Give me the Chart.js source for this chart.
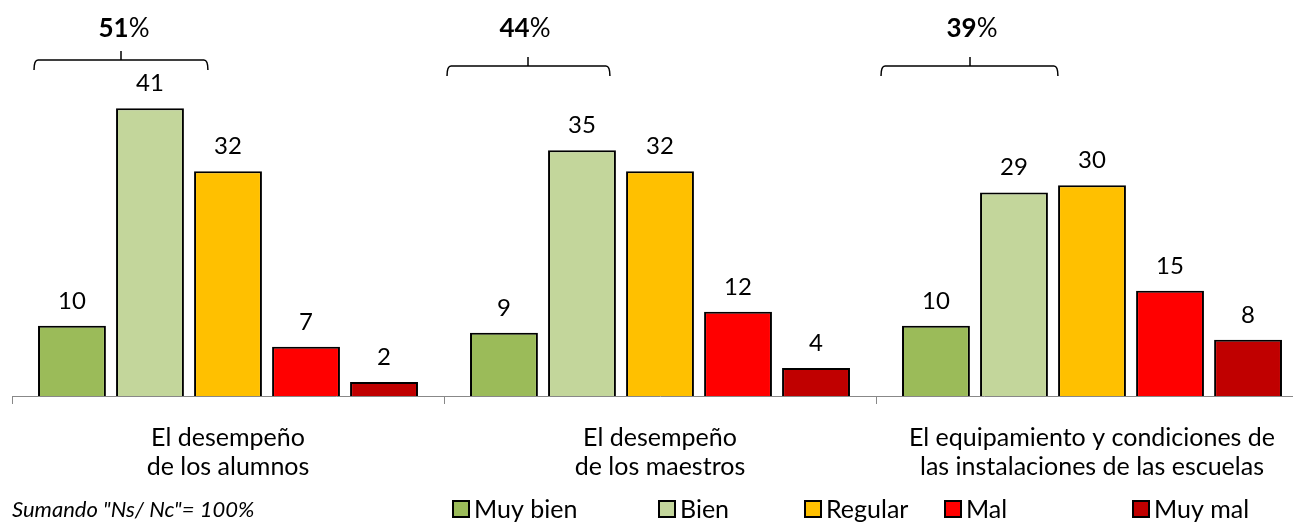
<!DOCTYPE html>
<html>
<head>
<meta charset="utf-8">
<script src="https://cdn.jsdelivr.net/npm/chart.js@4.4.1/dist/chart.umd.min.js"></script>
<style>
  html, body { margin: 0; padding: 0; background: #fff; overflow: hidden; }
  #wrap { position: absolute; left: 0; top: 0; width: 1320px; height: 522px; }
</style>
</head>
<body>
<div id="wrap"><canvas id="chartCanvas" width="1320" height="522"></canvas></div>
<script>
// Daten
const categories = [
  ["El desempeño", "de los alumnos"],
  ["El desempeño", "de los maestros"],
  ["El equipamiento y condiciones de", "las instalaciones de las escuelas"]
];
const seriesNames = ["Muy bien", "Bien", "Regular", "Mal", "Muy mal"];
const muyBien = [10, 9, 10];
const bien = [41, 35, 29];
const regular = [32, 32, 30];
const mal = [7, 12, 15];
const muyMal = [2, 4, 8];
const positivos = ["51", "44", "39"];
const nota = 'Sumando "Ns/ Nc"= 100%';

const colores = ["#9BBB59", "#C3D69B", "#FFC000", "#FF0000", "#C00000"];
const FONT = "Lato, 'Open Sans', sans-serif";

// Klammer-Versatz je Gruppe (links, rechts, Höhe der Linie)
const klammer = [
  { l: -4, r: 24, y: 60, cx: 121, tx: 124 },
  { l: -23, r: -6, y: 66, cx: 528, tx: 525 },
  { l: -21, r: 10, y: 66, cx: 970, tx: 972 }
];
// Legenden-Startpunkte (x)
const legendeX = [453, 659, 805, 945, 1133];

const werteLabels = {
  id: 'werteLabels',
  afterDatasetsDraw(chart) {
    const c = chart.ctx;
    c.save();
    c.font = "24px " + FONT;
    c.fillStyle = "#000";
    c.textAlign = "center";
    c.textBaseline = "alphabetic";
    chart.data.datasets.forEach((ds, i) => {
      chart.getDatasetMeta(i).data.forEach((bar, j) => {
        c.fillText(ds.data[j], bar.x, bar.y - 17);
      });
    });

    // Klammern und Prozente
    const m0 = chart.getDatasetMeta(0).data;
    const m1 = chart.getDatasetMeta(1).data;
    c.strokeStyle = "#000";
    c.lineWidth = 1.5;
    positivos.forEach((p, j) => {
      const k = klammer[j];
      const x1 = m0[j].x - m0[j].width / 2 + k.l;
      const x2 = m1[j].x + m1[j].width / 2 + k.r;
      c.beginPath();
      c.moveTo(x1, k.y + 10);
      c.quadraticCurveTo(x1, k.y, x1 + 4, k.y);
      c.lineTo(x2 - 4, k.y);
      c.quadraticCurveTo(x2, k.y, x2, k.y + 10);
      c.moveTo(k.cx, k.y);
      c.lineTo(k.cx, k.y - 9);
      c.stroke();

      c.font = "bold 26px " + FONT;
      const w1 = c.measureText(p).width;
      c.font = "26px " + FONT;
      const w2 = c.measureText("%").width;
      const sx = k.tx - (w1 + w2) / 2;
      c.textAlign = "left";
      c.font = "bold 26px " + FONT;
      c.fillText(p, sx, 37);
      c.font = "26px " + FONT;
      c.fillText("%", sx + w1, 37);
      c.textAlign = "center";
    });

    // Fußnote
    c.font = "italic 22px " + FONT;
    c.textAlign = "left";
    c.fillText(nota, 12, 517);

    // Legende
    c.font = "25px " + FONT;
    seriesNames.forEach((n, i) => {
      const x = legendeX[i];
      c.fillStyle = colores[i];
      c.fillRect(x, 501, 16, 16);
      c.lineWidth = 2;
      c.strokeStyle = "#000";
      c.strokeRect(x, 501, 16, 16);
      c.fillStyle = "#000";
      c.fillText(n, x + 21, 518);
    });
    c.restore();
  }
};

const ctx = document.getElementById('chartCanvas').getContext('2d');
const reihen = [muyBien, bien, regular, mal, muyMal];

new Chart(ctx, {
  type: 'bar',
  data: {
    labels: categories,
    datasets: reihen.map((d, i) => ({
      label: seriesNames[i],
      data: d,
      backgroundColor: colores[i],
      borderColor: "#000",
      borderWidth: 2,
      categoryPercentage: 0.903,
      barPercentage: 0.87
    }))
  },
  options: {
    responsive: false,
    animation: false,
    layout: { padding: { left: 12, right: 12, top: 0, bottom: 0 } },
    plugins: { legend: { display: false }, tooltip: { enabled: false } },
    scales: {
      y: { display: false, min: 0, max: 56.4 },
      x: {
        afterFit: (s) => { s.height = 126; },
        border: { display: true, color: "#888", width: 1 },
        grid: { offset: true, drawOnChartArea: false, drawTicks: true, tickLength: 8, color: "#888" },
        ticks: { color: "#000", font: { family: FONT, size: 25, lineHeight: "29px" }, padding: 19, maxRotation: 0, autoSkip: false }
      }
    }
  },
  plugins: [werteLabels]
});
</script>
</body>
</html>
